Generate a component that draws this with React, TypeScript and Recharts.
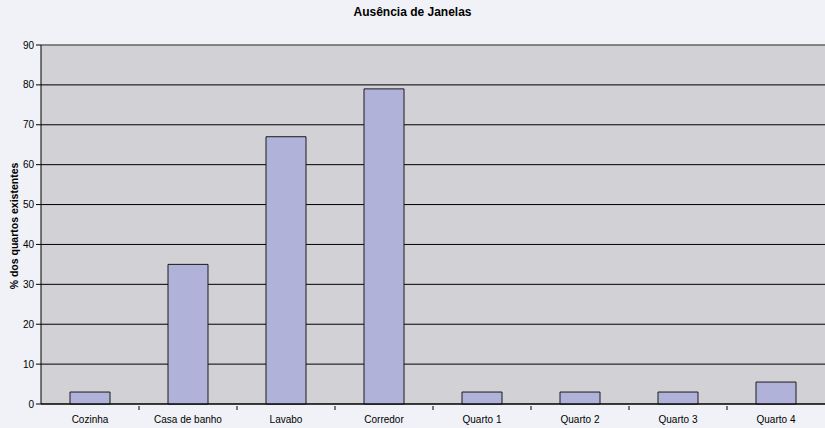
import React from 'react';
import { BarChart, Bar, XAxis, YAxis, CartesianGrid, ReferenceLine, Label } from 'recharts';

const categories = ['Cozinha', 'Casa de banho', 'Lavabo', 'Corredor', 'Quarto 1', 'Quarto 2', 'Quarto 3', 'Quarto 4'];
const values = [3, 35, 67, 79, 3, 3, 3, 5.5];
const yTicks = [0, 10, 20, 30, 40, 50, 60, 70, 80, 90];

const data = categories.map((c, i) => ({ name: c, value: values[i] }));

const FONT = 'Liberation Sans, Arial, sans-serif';

function CatTick(props: any) {
  const { x, y, payload, index, width, visibleTicksCount } = props;
  const count = visibleTicksCount || categories.length;
  const band = (width || 784) / count;
  const top = y - 6;
  return (
    <g>
      {index < count - 1 && (
        <line x1={x + band / 2} x2={x + band / 2} y1={top} y2={top + 4} stroke="#000" strokeWidth={1} />
      )}
      <text x={x} y={top + 17} textAnchor="middle" fontSize={10} fontFamily={FONT} fill="#000">
        {payload.value}
      </text>
    </g>
  );
}

export default function App() {
  return (
    <div style={{ position: 'absolute', left: 0, top: 0, width: 825, height: 428, background: '#f0f2f7', fontFamily: FONT }}>
      <div style={{ position: 'absolute', left: 0, top: 5, width: 825, textAlign: 'center', fontSize: 12, fontWeight: 'bold', color: '#000' }}>
        Ausência de Janelas
      </div>
      <BarChart width={825} height={428} data={data} margin={{ top: 45, right: 0, bottom: 0, left: 0 }} barCategoryGap={29}>
        <CartesianGrid vertical={false} stroke="#000" strokeWidth={1} fill="#d1d1d6" fillOpacity={1} />
        <XAxis dataKey="name" height={24} axisLine={{ stroke: '#000' }} tickLine={false}
          tick={<CatTick />} interval={0} />
        <YAxis width={41} domain={[0, 90]} ticks={yTicks} axisLine={{ stroke: '#000' }} tickLine={{ stroke: '#000' }} tickSize={5}
          tick={{ fontSize: 10, fill: '#000', fontFamily: FONT }} interval={0}>
          <Label content={() => (
            <text x={18} y={226} transform="rotate(-90 18 226)" textAnchor="middle" fontSize={10.5} fontWeight="bold" fontFamily={FONT} fill="#000">
              % dos quartos existentes
            </text>
          )} />
        </YAxis>
        <ReferenceLine y={90} stroke="#8a8a8a" strokeWidth={1.5} />
        <Bar dataKey="value" fill="#b0b2d9" stroke="#1a1a1a" strokeWidth={1} isAnimationActive={false} />
      </BarChart>
    </div>
  );
}
